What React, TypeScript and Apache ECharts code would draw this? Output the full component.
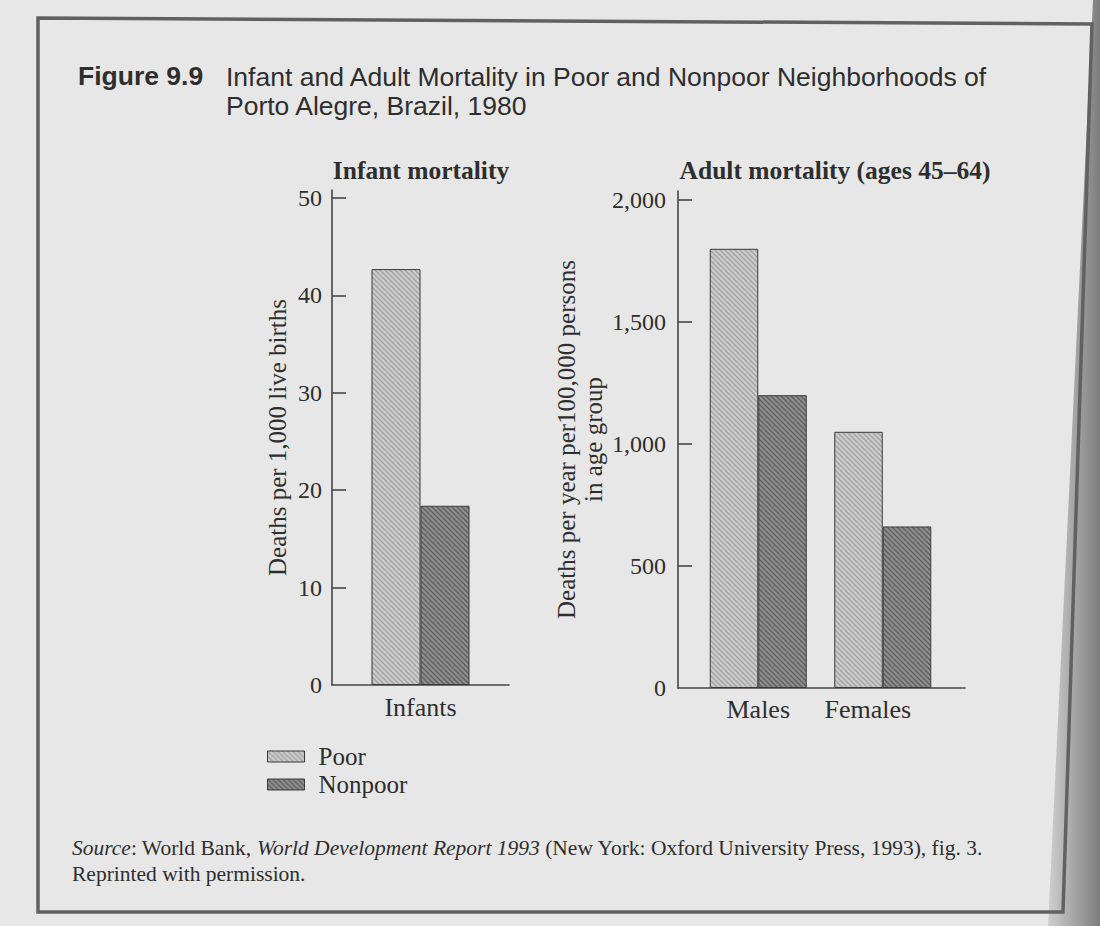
import { useEffect, useRef } from 'react';
import * as echarts from 'echarts';

const seriesNames = ['Poor', 'Nonpoor'];
const infantCategories = ['Infants'];
const infantPoor = [42.7];
const infantNonpoor = [18.4];
const adultCategories = ['Males', 'Females'];
const adultPoor = [1800, 1050];
const adultNonpoor = [1200, 662];
const infantTicks = [0, 10, 20, 30, 40, 50];
const adultTicks = [0, 500, 1000, 1500, 2000];

const SERIF = '"Liberation Serif", "Times New Roman", serif';
const SANS = '"Liberation Sans", Arial, Helvetica, sans-serif';
const INK = '#2e2e2e';
const AXIS = '#474747';

function makeHatch(base: string, line: string) {
  const s = 5;
  const c = document.createElement('canvas');
  c.width = s;
  c.height = s;
  const ctx = c.getContext('2d')!;
  ctx.fillStyle = base;
  ctx.fillRect(0, 0, s, s);
  ctx.strokeStyle = line;
  ctx.lineWidth = 1.3;
  ctx.beginPath();
  ctx.moveTo(-1, -1);
  ctx.lineTo(s + 1, s + 1);
  ctx.moveTo(-1, s - 1);
  ctx.lineTo(1, s + 1);
  ctx.moveTo(s - 1, -1);
  ctx.lineTo(s + 1, 1);
  ctx.stroke();
  return { image: c.toDataURL(), repeat: 'repeat', imageWidth: s, imageHeight: s } as any;
}

function fmtThousands(v: number) {
  if (v >= 1000) {
    const th = Math.floor(v / 1000);
    const rest = String(v % 1000).padStart(3, '0');
    return `${th},${rest}`;
  }
  return String(v);
}

export default function App() {
  const ref = useRef<HTMLDivElement>(null);

  useEffect(() => {
    document.body.style.margin = '0';
    if (!ref.current) return;
    const chart = echarts.init(ref.current, undefined, { renderer: 'svg' });

    const poorFill = makeHatch('#cbcbcb', '#a2a2a2');
    const nonpoorFill = makeHatch('#8e8e8e', '#5e5e5e');
    const barBorder = { borderColor: '#3a3a3a', borderWidth: 1 };

    const yAxisCommon = {
      type: 'value',
      min: 0,
      splitLine: { show: false },
      axisLine: { show: true, lineStyle: { color: AXIS, width: 1.6 } },
      axisTick: { show: true, inside: true, length: 14, lineStyle: { color: AXIS, width: 1.6 } },
      nameLocation: 'middle',
      nameRotate: 90,
      nameTextStyle: { fontFamily: SERIF, fontSize: 25, color: INK },
    };

    const option: any = {
      animation: false,
      backgroundColor: '#e7e7e7',
      grid: [
        { left: 332, top: 190, width: 177, height: 495 },
        { left: 696, top: 191, width: 249, height: 497 },
        { left: 678, top: 191, width: 287, height: 497 },
      ],
      xAxis: [
        {
          type: 'category',
          gridIndex: 0,
          data: infantCategories,
          axisLine: { show: true, lineStyle: { color: AXIS, width: 1.6 } },
          axisTick: { show: false },
          axisLabel: { fontFamily: SERIF, fontSize: 26, color: INK, margin: 9 },
        },
        {
          type: 'category',
          gridIndex: 1,
          data: [
            adultCategories[0],
            { value: adultCategories[1], textStyle: { padding: [0, 30, 0, 0] } },
          ],
          axisLine: { show: false },
          axisTick: { show: false },
          axisLabel: { fontFamily: SERIF, fontSize: 26, color: INK, margin: 8 },
        },
        {
          type: 'value',
          gridIndex: 2,
          min: 0,
          max: 1,
          axisLine: { show: true, onZero: false, lineStyle: { color: AXIS, width: 1.6 } },
          axisTick: { show: false },
          axisLabel: { show: false },
          splitLine: { show: false },
        },
      ],
      yAxis: [
        {
          ...yAxisCommon,
          gridIndex: 0,
          max: 50.82,
          name: 'Deaths per 1,000 live births',
          nameGap: 42,
          axisTick: { ...yAxisCommon.axisTick, customValues: infantTicks.slice(1) },
          axisLabel: {
            customValues: infantTicks,
            fontFamily: SERIF,
            fontSize: 24,
            color: INK,
            margin: 10,
          },
        },
        {
          ...yAxisCommon,
          gridIndex: 1,
          max: 2036.9,
          offset: 18,
          name: 'Deaths per year per100,000 persons\nin age group',
          nameGap: 71,
          nameTextStyle: { ...yAxisCommon.nameTextStyle, lineHeight: 27 },
          axisTick: { ...yAxisCommon.axisTick, customValues: adultTicks.slice(1) },
          axisLabel: {
            customValues: adultTicks,
            formatter: (v: number) => fmtThousands(v),
            fontFamily: SERIF,
            fontSize: 24,
            color: INK,
            margin: 12,
          },
        },
        {
          type: 'value',
          gridIndex: 2,
          show: false,
          min: 0,
          max: 1,
        },
      ],
      legend: {
        data: seriesNames,
        orient: 'vertical',
        left: 267,
        top: 744,
        padding: 0,
        itemWidth: 37,
        itemHeight: 11,
        itemGap: 3,
        icon: 'rect',
        itemStyle: { borderColor: '#3a3a3a', borderWidth: 1 },
        textStyle: { fontFamily: SERIF, fontSize: 25, color: INK, padding: [0, 0, 0, 9] },
      },
      series: [
        {
          name: seriesNames[0],
          type: 'bar',
          xAxisIndex: 0,
          yAxisIndex: 0,
          data: infantPoor,
          barWidth: 49,
          barGap: '0%',
          itemStyle: { color: poorFill, ...barBorder },
        },
        {
          name: seriesNames[1],
          type: 'bar',
          xAxisIndex: 0,
          yAxisIndex: 0,
          data: infantNonpoor,
          barWidth: 49,
          barGap: '0%',
          itemStyle: { color: nonpoorFill, ...barBorder },
        },
        {
          name: seriesNames[0],
          type: 'bar',
          xAxisIndex: 1,
          yAxisIndex: 1,
          data: adultPoor,
          barWidth: 48.5,
          barGap: '0%',
          itemStyle: { color: poorFill, ...barBorder },
        },
        {
          name: seriesNames[1],
          type: 'bar',
          xAxisIndex: 1,
          yAxisIndex: 1,
          data: adultNonpoor,
          barWidth: 48.5,
          barGap: '0%',
          itemStyle: { color: nonpoorFill, ...barBorder },
        },
      ],
      graphic: [
        {
          type: 'polygon',
          silent: true,
          z: -10,
          shape: { points: [[1093, 0], [1100, 0], [1100, 926], [1048, 926]] },
          style: {
            fill: new echarts.graphic.LinearGradient(0, 0, 1, 0, [
              { offset: 0, color: '#cfcfcf' },
              { offset: 1, color: '#7d7d7d' },
            ]),
          },
        },
        {
          type: 'polygon',
          silent: true,
          z: -5,
          shape: { points: [[38, 18], [1092, 24], [1063, 912], [38, 912]] },
          style: { fill: 'none', stroke: '#616161', lineWidth: 3.5 },
        },
        {
          type: 'text',
          left: 78,
          top: 62,
          style: { text: 'Figure 9.9', font: `bold 26.5px ${SANS}`, fill: INK },
        },
        {
          type: 'text',
          left: 226,
          top: 62,
          style: {
            text: 'Infant and Adult Mortality in Poor and Nonpoor Neighborhoods of\nPorto Alegre, Brazil, 1980',
            font: `26.5px ${SANS}`,
            lineHeight: 29,
            fill: INK,
          },
        },
        {
          type: 'text',
          x: 421,
          y: 170,
          style: {
            text: 'Infant mortality',
            font: `bold 25.5px ${SERIF}`,
            fill: INK,
            align: 'center',
            verticalAlign: 'middle',
          },
        },
        {
          type: 'text',
          x: 835,
          y: 170,
          style: {
            text: 'Adult mortality (ages 45\u201364)',
            font: `bold 25.5px ${SERIF}`,
            fill: INK,
            align: 'center',
            verticalAlign: 'middle',
          },
        },
        {
          type: 'text',
          x: 72,
          y: 848,
          style: {
            text: '{i|Source}: World Bank, {i|World Development Report 1993} (New York: Oxford University Press, 1993), fig. 3.',
            font: `21.5px ${SERIF}`,
            fill: INK,
            verticalAlign: 'middle',
            rich: {
              i: { fontStyle: 'italic', fontFamily: SERIF, fontSize: 21.5, fill: INK },
            },
          },
        },
        {
          type: 'text',
          x: 72,
          y: 874,
          style: {
            text: 'Reprinted with permission.',
            font: `21.5px ${SERIF}`,
            fill: INK,
            verticalAlign: 'middle',
          },
        },
      ],
    };

    chart.setOption(option);
    return () => chart.dispose();
  }, []);

  return <div ref={ref} style={{ width: 1100, height: 926 }} />;
}
